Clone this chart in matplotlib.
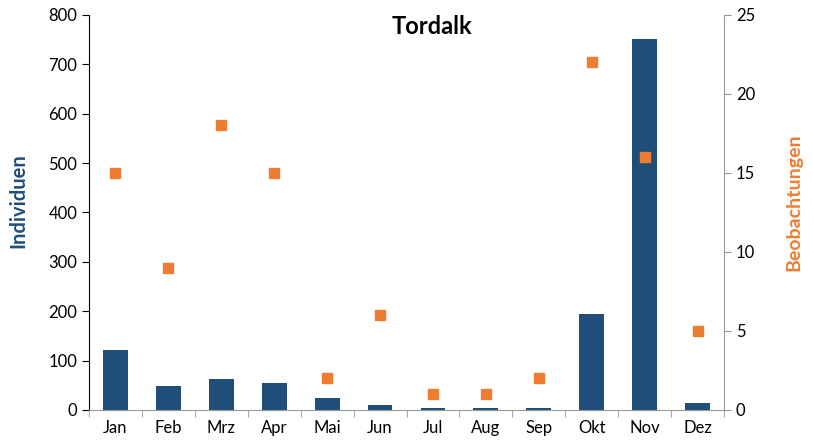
import matplotlib.pyplot as plt
import numpy as np

plt.rcParams['font.family'] = ['Lato', 'DejaVu Sans']

months = ['Jan', 'Feb', 'Mrz', 'Apr', 'Mai', 'Jun', 'Jul', 'Aug', 'Sep', 'Okt', 'Nov', 'Dez']
individuen = [122, 49, 63, 54, 24, 11, 4, 4, 4, 194, 752, 14]
beobachtungen = [15, 9, 18, 15, 2, 6, 1, 1, 2, 22, 16, 5]

blue = '#1F4E79'
orange = '#ED7D31'

fig = plt.figure(figsize=(8.13, 4.42), dpi=100)
ax = fig.add_axes([0.1095, 0.0724, 0.781, 0.894])
x = np.arange(len(months))
ax.bar(x, individuen, width=0.47, color=blue, zorder=2)
ax.set_xlim(-0.5, len(months) - 0.5)
ax.set_ylim(0, 800)
ax.set_yticks(range(0, 801, 100))
ax.set_xticks(x)
ax.set_xticklabels(months, fontsize=12)
ax.set_xticks(np.arange(-0.5, len(months), 1), minor=True)
ax.tick_params(axis='x', which='major', length=0, pad=7)
ax.tick_params(axis='x', which='minor', length=5, color='#999999')
ax.tick_params(axis='y', labelsize=12, length=5)
ax.spines['top'].set_visible(False)
ax.spines['right'].set_visible(False)
ax.spines['bottom'].set_color('#999999')
ax.set_ylabel('Individuen', color=blue, fontsize=14.5, fontweight='bold')
ax.yaxis.set_label_coords(-0.095, 0.53)

ax2 = ax.twinx()
ax2.plot(x, beobachtungen, 's', color=orange, markersize=7.5, zorder=3)
ax2.set_ylim(0, 25)
ax2.set_yticks(range(0, 26, 5))
ax2.tick_params(axis='y', labelsize=12, length=5, color='#999999')
ax2.spines['top'].set_visible(False)
ax2.spines['left'].set_visible(False)
ax2.spines['bottom'].set_visible(False)
ax2.spines['right'].set_color('#999999')
ax2.set_ylabel('Beobachtungen', color=orange, fontsize=14, fontweight='bold')
ax2.yaxis.set_label_coords(1.097, 0.525)

ax.set_title('Tordalk', fontsize=17, fontweight='bold', x=0.54, y=0.93)

fig.savefig('out.png', dpi=100)
